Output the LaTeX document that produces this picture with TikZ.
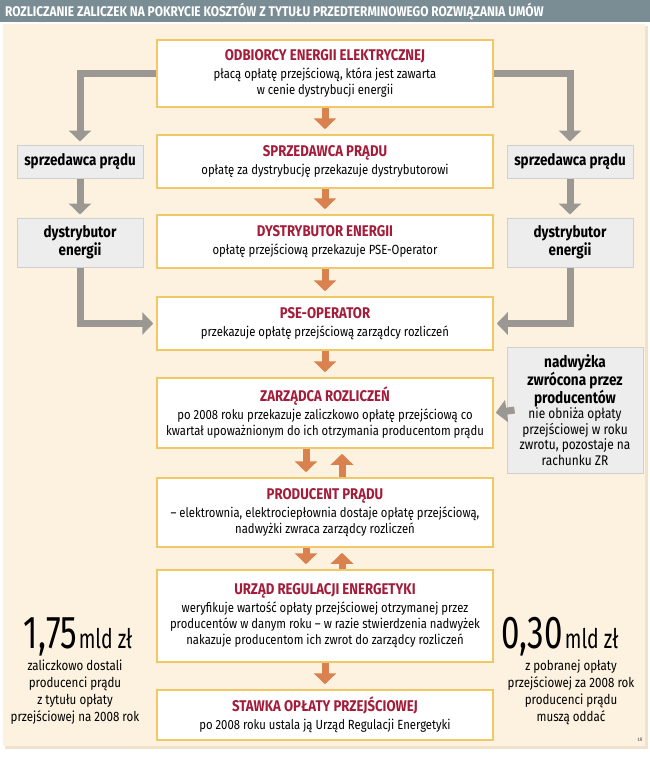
\documentclass[tikz,border=0pt]{standalone}
\usepackage{fontspec}
\setmainfont[FakeStretch=0.85]{Fira Sans}
\newfontfamily\numfont[FakeStretch=0.72]{Fira Sans}
\usetikzlibrary{arrows.meta}

\definecolor{panelbg}{HTML}{FDF1DF}
\definecolor{panelsh}{HTML}{F1E2CC}
\definecolor{barbg}{HTML}{7B8D94}
\definecolor{boxline}{HTML}{F2C765}
\definecolor{ttlred}{HTML}{A31D3A}
\definecolor{orarr}{HTML}{D9824F}
\definecolor{grarr}{HTML}{9B9893}
\definecolor{sidefill}{HTML}{EDEDED}
\definecolor{sideline}{HTML}{CFCFCF}

\newcommand{\ttl}[1]{{\fontsize{15.5}{17}\selectfont\bfseries\color{ttlred}#1}}
\newcommand{\hdl}[1]{{\fontsize{16}{16}\selectfont\bfseries #1}}

\tikzset{
  mainbox/.style={draw=boxline, line width=1.5pt, fill=white, minimum width=336pt,
    align=center, inner sep=3pt, font=\fontsize{13.3}{16}\selectfont},
  sidebox/.style={draw=sideline, line width=1pt, fill=sidefill, minimum width=126pt,
    align=center, inner sep=2pt, font=\fontsize{15.8}{17.5}\selectfont\bfseries},
  nadbox/.style={draw=sideline, line width=1pt, fill=sidefill, minimum width=136pt,
    minimum height=126pt, align=center, inner sep=2pt, font=\fontsize{14}{15.6}\selectfont},
  numtxt/.style={align=center, inner sep=0pt, font=\fontsize{13.6}{17}\selectfont},
  orarrow/.style={draw=orarr, line width=7pt, -{Triangle[width=22pt,length=11pt]}, shorten >=5pt},
  grarrow/.style={draw=grarr, line width=7pt, -{Triangle[width=22pt,length=11pt]}, shorten >=3pt},
}

\begin{document}
\begin{tikzpicture}[x=1pt, y=-1pt]
	\useasboundingbox (0,0) rectangle (650,760);
	% background and title bar
	\fill[panelsh] (5,26) rectangle (648,749);
	\fill[panelbg] (3,24) rectangle (645,746);
	\fill[barbg] (0,0) rectangle (650,22);
	\node[anchor=west, text=white, inner sep=0pt, font=\fontsize{14}{16}\selectfont\bfseries] (head) at (5,11.5)
		{ROZLICZANIE ZALICZEK NA POKRYCIE KOSZTÓW Z TYTUŁU PRZEDTERMINOWEGO ROZWIĄZANIA UMÓW};

	% main chain
	\node[mainbox, minimum height=67pt] (odb) at (325,73.5)
		{\ttl{ODBIORCY ENERGII ELEKTRYCZNEJ}\\[2pt] płacą opłatę przejściową, która jest zawarta\\ w cenie dystrybucji energii};
	\node[mainbox, minimum height=53pt] (spr) at (325,161.5)
		{\ttl{SPRZEDAWCA PRĄDU}\\[2pt] opłatę za dystrybucję przekazuje dystrybutorowi};
	\node[mainbox, minimum height=53pt] (dys) at (325,241.5)
		{\ttl{DYSTRYBUTOR ENERGII}\\[2pt] opłatę przejściową przekazuje PSE-Operator};
	\node[mainbox, minimum height=53pt] (pse) at (325,323.5)
		{\ttl{PSE-OPERATOR}\\[2pt] przekazuje opłatę przejściową zarządcy rozliczeń};
	\node[mainbox, minimum height=70pt] (zar) at (325,413)
		{\ttl{ZARZĄDCA ROZLICZEŃ}\\[2pt] po 2008 roku przekazuje zaliczkowo opłatę przejściową co\\ kwartał upoważnionym do ich otrzymania producentom prądu};
	\node[mainbox, minimum height=69pt] (prod) at (325,512.5)
		{\ttl{PRODUCENT PRĄDU}\\[2pt] – elektrownia, elektrociepłownia dostaje opłatę przejściową,\\ nadwyżki zwraca zarządcy rozliczeń};
	\node[mainbox, minimum height=92pt] (ure) at (325,616)
		{\ttl{URZĄD REGULACJI ENERGETYKI}\\[2pt] weryfikuje wartość opłaty przejściowej otrzymanej przez\\ producentów w danym roku – w razie stwierdzenia nadwyżek\\ nakazuje producentom ich zwrot do zarządcy rozliczeń};
	\node[mainbox, minimum height=50pt] (staw) at (325,715)
		{\ttl{STAWKA OPŁATY PRZEJŚCIOWEJ}\\[2pt] po 2008 roku ustala ją Urząd Regulacji Energetyki};

	% side boxes
	\node[sidebox, minimum height=33pt] (lspr) at (80,161.5) {sprzedawca prądu};
	\node[sidebox, minimum height=49pt] (ldys) at (80,242.5) {dystrybutor\\ energii};
	\node[sidebox, minimum height=33pt] (rspr) at (570,161.5) {sprzedawca prądu};
	\node[sidebox, minimum height=49pt] (rdys) at (570,242.5) {dystrybutor\\ energii};
	\node[nadbox] (nad) at (575,410)
		{\hdl{nadwyżka}\\ \hdl{zwrócona przez}\\ \hdl{producentów}\\ nie obniża opłaty\\ przejściowej w roku\\ zwrotu, pozostaje na\\ rachunku ZR};

	% orange arrows
	\draw[orarrow] (odb) to (spr);
	\draw[orarrow] (spr) to (dys);
	\draw[orarrow] (dys) to (pse);
	\draw[orarrow] (pse) to (zar);
	\draw[orarrow] ([xshift=-19pt]zar.south) to ([xshift=-19pt]prod.north);
	\draw[orarrow] ([xshift=17pt]prod.north) to ([xshift=17pt]zar.south);
	\draw[orarrow] ([xshift=-19pt]prod.south) to ([xshift=-19pt]ure.north);
	\draw[orarrow] ([xshift=17pt]ure.north) to ([xshift=17pt]prod.south);
	\draw[orarrow] (ure) to (staw);

	% grey arrows
	\draw[grarrow] (odb.west) -| (lspr.north);
	\draw[grarrow] (lspr) to (ldys);
	\draw[grarrow] (ldys.south) |- (pse.west);
	\draw[grarrow] (odb.east) -| (rspr.north);
	\draw[grarrow] (rspr) to (rdys);
	\draw[grarrow] (rdys.south) |- (pse.east);
	\draw[grarrow, shorten >=2pt] ([xshift=8pt]nad.west) to (zar.east);

	% figures
	\node[anchor=base, inner sep=0pt] (lnum) at (78,648)
		{\numfont\fontsize{46}{46}\selectfont 1,75\kern2pt{\fontsize{27}{27}\selectfont mld zł}};
	\node[numtxt, anchor=north] (ltxt) at (75,660)
		{zaliczkowo dostali\\ producenci prądu\\ z tytułu opłaty\\ przejściowej na 2008 rok};
	\node[anchor=base, inner sep=0pt] (rnum) at (560,648)
		{\numfont\fontsize{46}{46}\selectfont 0,30\kern2pt{\fontsize{27}{27}\selectfont mld zł}};
	\node[numtxt, anchor=north] (rtxt) at (571,660)
		{z pobranej opłaty\\ przejściowej za 2008 rok\\ producenci prądu\\ muszą oddać};
	\node[inner sep=0pt, text=black!70, font=\fontsize{5}{6}\selectfont] (sig) at (640,740) {ŁR};
\end{tikzpicture}
\end{document}
